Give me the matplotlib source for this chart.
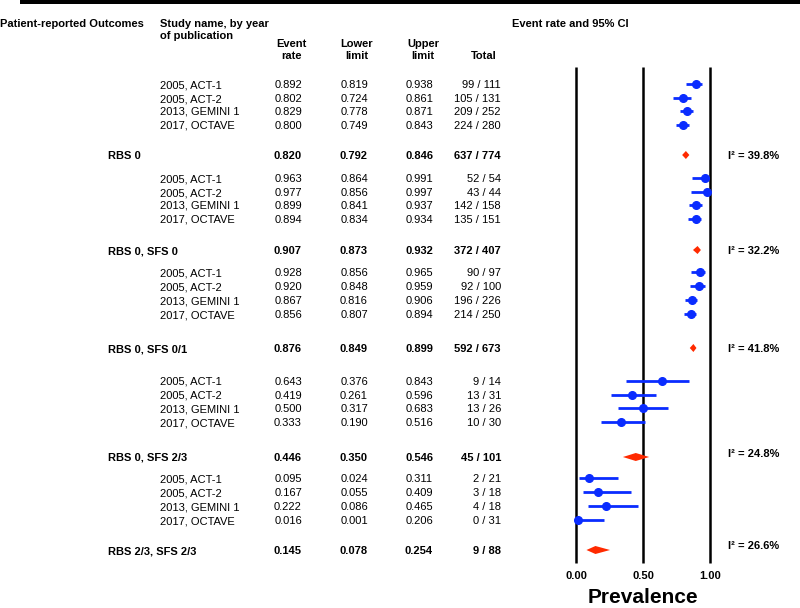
import matplotlib.pyplot as plt

plt.rcParams['font.family'] = ['Liberation Sans', 'DejaVu Sans']

studies = ["2005, ACT-1", "2005, ACT-2", "2013, GEMINI 1", "2017, OCTAVE"]
groups = ["RBS 0", "RBS 0, SFS 0", "RBS 0, SFS 0/1", "RBS 0, SFS 2/3", "RBS 2/3, SFS 2/3"]
rate = [[0.892, 0.802, 0.829, 0.800],
        [0.963, 0.977, 0.899, 0.894],
        [0.928, 0.920, 0.867, 0.856],
        [0.643, 0.419, 0.500, 0.333],
        [0.095, 0.167, 0.222, 0.016]]
lower = [[0.819, 0.724, 0.778, 0.749],
         [0.864, 0.856, 0.841, 0.834],
         [0.856, 0.848, 0.816, 0.807],
         [0.376, 0.261, 0.317, 0.190],
         [0.024, 0.055, 0.086, 0.001]]
upper = [[0.938, 0.861, 0.871, 0.843],
         [0.991, 0.997, 0.937, 0.934],
         [0.965, 0.959, 0.906, 0.894],
         [0.843, 0.596, 0.683, 0.516],
         [0.311, 0.409, 0.465, 0.206]]
totals = [["99 / 111", "105 / 131", "209 / 252", "224 / 280"],
          ["52 / 54", "43 / 44", "142 / 158", "135 / 151"],
          ["90 / 97", "92 / 100", "196 / 226", "214 / 250"],
          ["9 / 14", "13 / 31", "13 / 26", "10 / 30"],
          ["2 / 21", "3 / 18", "4 / 18", "0 / 31"]]
pooled_rate = [0.820, 0.907, 0.876, 0.446, 0.145]
pooled_lower = [0.792, 0.873, 0.849, 0.350, 0.078]
pooled_upper = [0.846, 0.932, 0.899, 0.546, 0.254]
pooled_total = ["637 / 774", "372 / 407", "592 / 673", "45 / 101", "9 / 88"]
i2 = ["39.8%", "32.2%", "41.8%", "24.8%", "26.6%"]
ticks = [0.0, 0.5, 1.0]

# layout (pixel rows)
study_y = [[84, 98, 111, 125], [178, 192, 205, 219], [272, 286, 300, 314],
           [381, 395, 408, 422], [478, 492, 506, 520]]
pooled_y = [155, 250, 348, 457, 550]
i2_y = [155, 250, 348, 453, 545]

fig = plt.figure(figsize=(8, 6.08), dpi=100)
bg = fig.add_axes([0, 0, 1, 1])
bg.set_xlim(0, 800)
bg.set_ylim(608, 0)
bg.axis('off')

ax = fig.add_axes([576 / 800, 0, 134 / 800, 1])
ax.set_xlim(0, 1)
ax.set_ylim(608, 0)
ax.axis('off')

bg.fill_between([20, 800], 0, 4, color='black', lw=0)

fs = 8
off = 4  # half cap height in px, text drawn on baseline


def txt(x, y, s, **kw):
    bg.text(x, y + off, s, fontsize=fs, va='baseline', **kw)


txt(0, 23, "Patient-reported Outcomes", weight='bold')
txt(160, 23, "Study name, by year", weight='bold')
txt(160, 35, "of publication", weight='bold')
for x, top, bot in [(291, "Event", "rate"), (357, "Lower", "limit"), (423, "Upper", "limit"), (484, "", "Total")]:
    txt(x, 43, top, weight='bold', ha='center')
    txt(x, 55, bot, weight='bold', ha='center')
txt(570, 23, "Event rate and 95% CI", weight='bold', ha='center')

cols = [302, 368, 433, 501]
for g in range(len(groups)):
    for i in range(len(studies)):
        y = study_y[g][i]
        txt(160, y, studies[i])
        vals = ["%.3f" % rate[g][i], "%.3f" % lower[g][i], "%.3f" % upper[g][i], totals[g][i]]
        for x, v in zip(cols, vals):
            txt(x, y, v, ha='right')
        ax.plot([lower[g][i], upper[g][i]], [y, y], color='#0a2cff', lw=2, solid_capstyle='butt',
                clip_on=False, zorder=3)
        ax.plot(rate[g][i], y, 'o', color='#0a2cff', ms=5.5, clip_on=False, zorder=4)
    y = pooled_y[g]
    txt(108, y, groups[g], weight='bold')
    vals = ["%.3f" % pooled_rate[g], "%.3f" % pooled_lower[g], "%.3f" % pooled_upper[g], pooled_total[g]]
    for x, v in zip(cols, vals):
        txt(x, y, v, weight='bold', ha='right')
    ax.fill([pooled_lower[g], pooled_rate[g], pooled_upper[g], pooled_rate[g]],
            [y, y - 4, y, y + 4], color='#ff2a00', lw=0, clip_on=False, zorder=3)
    txt(728, i2_y[g], "I\u00b2 = " + i2[g], weight='bold')

ax.vlines(ticks, 67, 563, color='black', lw=1.8, zorder=1, clip_on=False)
for t in ticks:
    ax.text(t, 579, "%.2f" % t, fontsize=fs, weight='bold', ha='center', va='baseline')
ax.text(0.5, 607, "Prevalence", fontsize=15, weight='bold', ha='center', va='bottom')

fig.savefig('out.png', dpi=100)
